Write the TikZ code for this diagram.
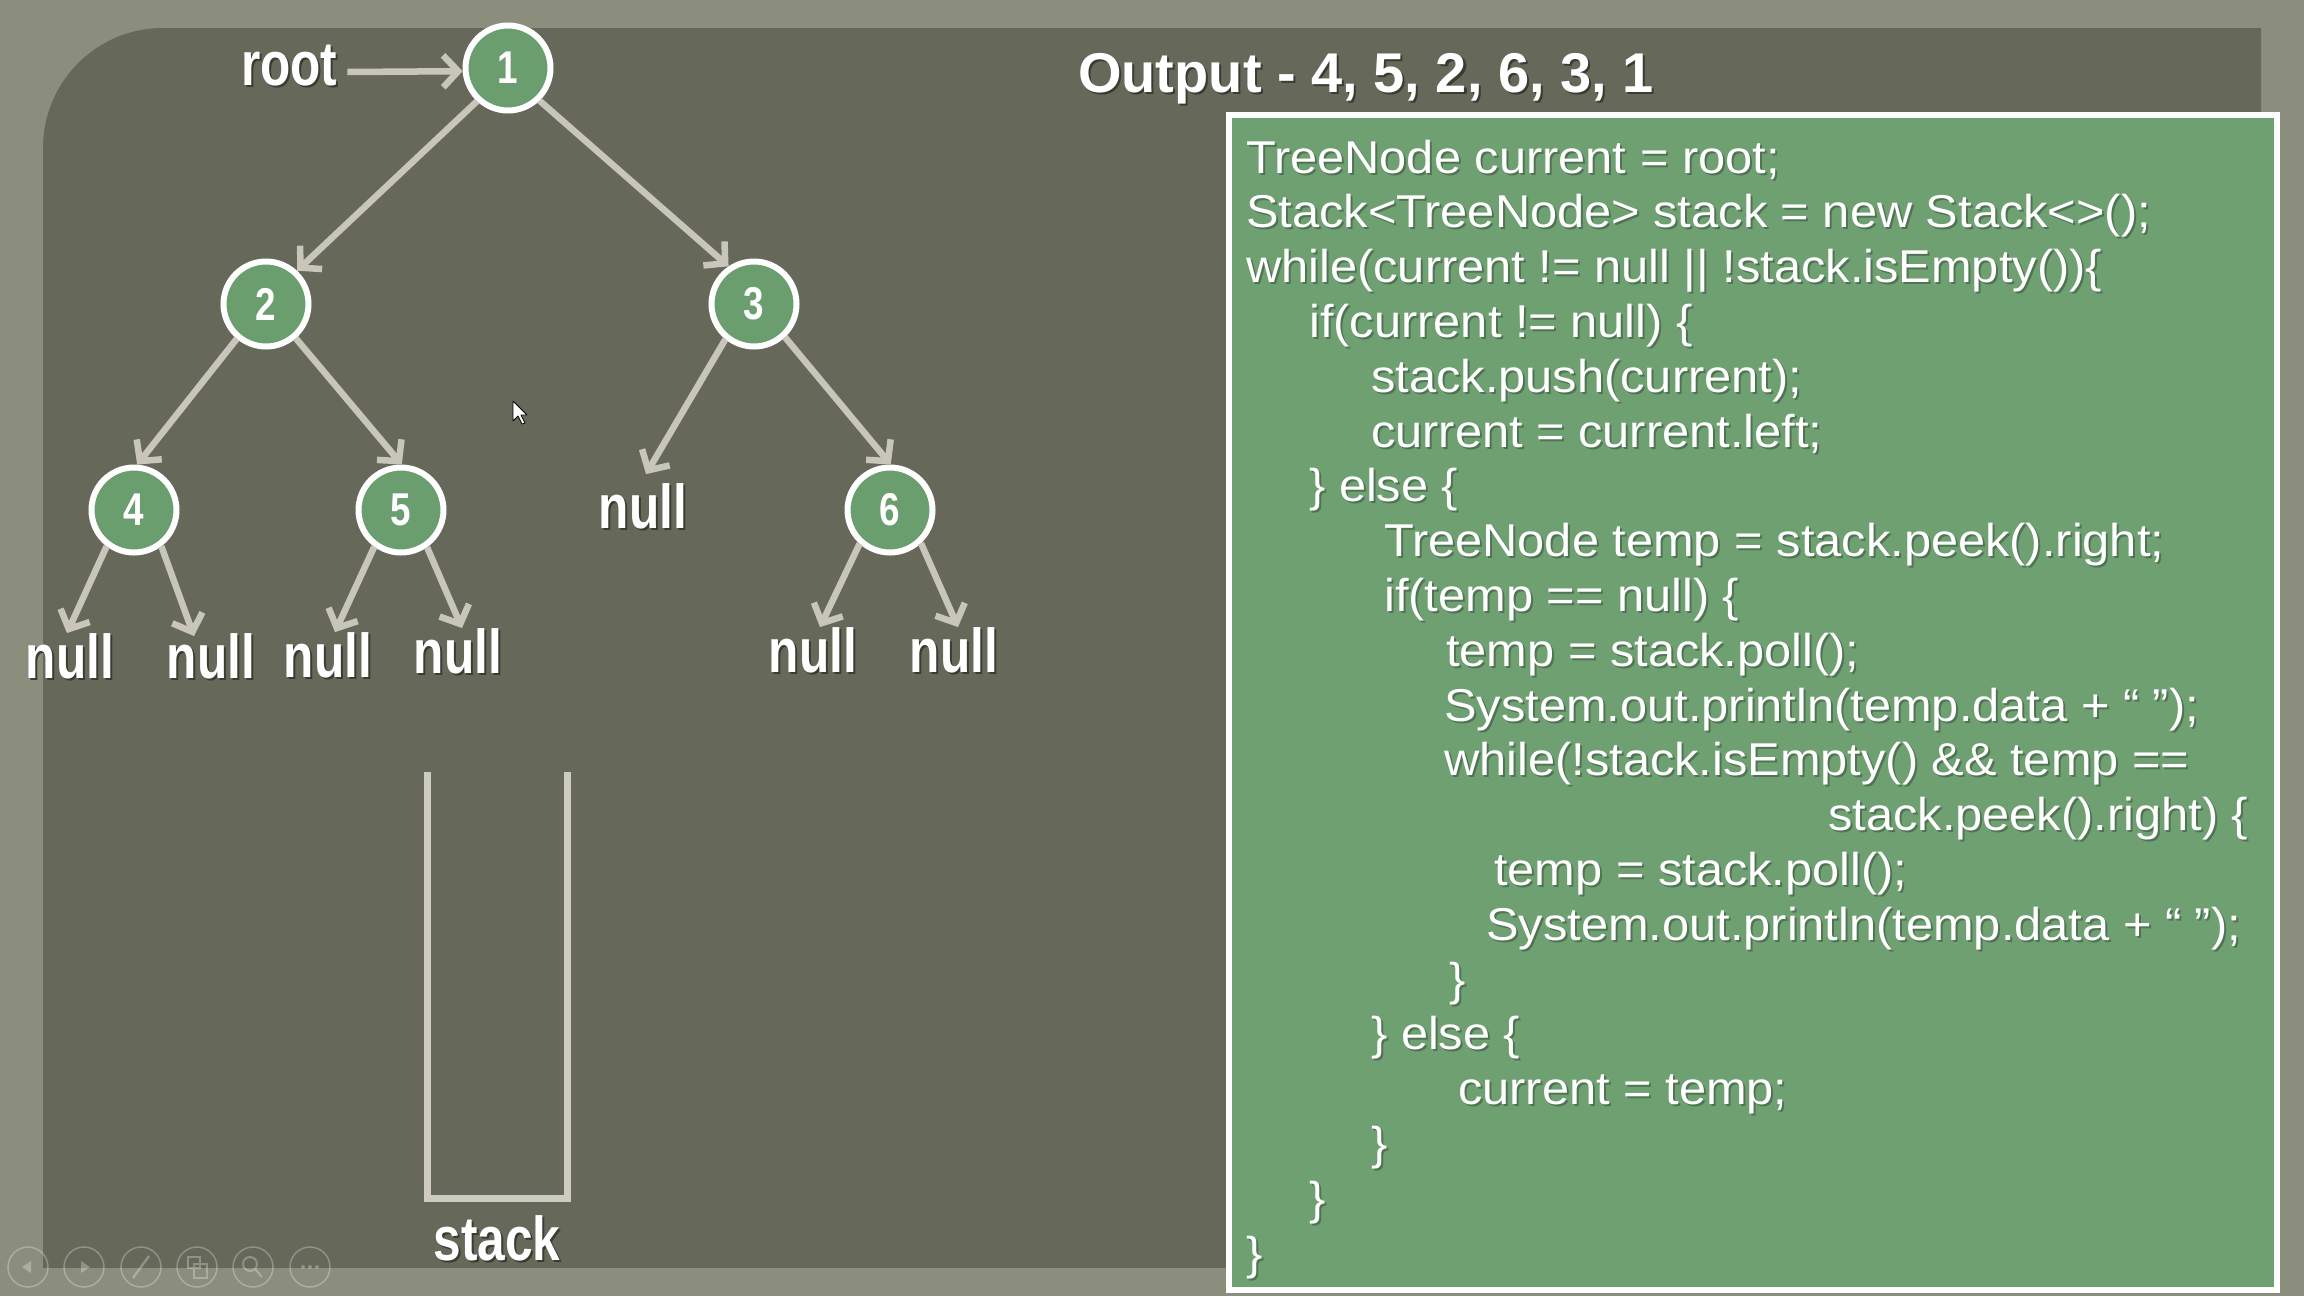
\documentclass[tikz,border=0pt]{standalone}
\usepackage{fontspec}
\setmainfont{Liberation Sans}
\newfontfamily\codefont[FakeStretch=1.06]{Liberation Sans}
\newfontfamily\labelfont[FakeStretch=0.8]{Liberation Sans}
\usetikzlibrary{arrows.meta,calc}

\definecolor{outerbg}{RGB}{139,142,125}
\definecolor{panelbg}{RGB}{102,104,90}
\definecolor{nodegreen}{RGB}{106,158,111}
\definecolor{codegreen}{RGB}{111,160,114}
\definecolor{edgegray}{RGB}{200,198,186}
\definecolor{wallgray}{RGB}{206,204,192}
\definecolor{labelshade}{RGB}{58,60,50}
\definecolor{codeshade}{RGB}{80,116,83}

% text with a small drop shadow underneath
\newcommand{\shadowed}[2]{\rlap{\kern2pt\raisebox{-2pt}{\textcolor{#1}{#2}}}#2}

\tikzset{
  treenode/.style={circle, draw=white, line width=6pt, fill=nodegreen,
    minimum size=85pt, inner sep=0pt, text=white,
    font=\labelfont\bfseries\fontsize{46}{50}\selectfont},
  treelabel/.style={text=white, inner sep=0pt, outer sep=0pt, anchor=base,
    font=\labelfont\bfseries\fontsize{62}{70}\selectfont},
  titlelabel/.style={text=white, inner sep=0pt, anchor=base west,
    font=\bfseries\fontsize{56}{62}\selectfont},
  codeline/.style={anchor=base west, inner sep=0pt, text=white,
    font=\codefont\fontsize{46}{55}\selectfont},
  edge/.style={draw=edgegray, line width=6.5pt,
    -{Straight Barb[length=15pt,width=32pt]}},
  stackwall/.style={draw=wallgray, line width=7pt, line join=miter},
  toolicon/.style={draw=white, draw opacity=0.28, line width=1.5pt},
}

% one line of the code listing: name, x, line number, text
\newcommand{\codeln}[4]{\node[codeline] (#1) at (#2,{173+54.8*#3}) {\shadowed{codeshade}{#4}};}

\begin{document}
\begin{tikzpicture}[x=1pt,y=-1pt]
  \useasboundingbox (0,0) rectangle (2304,1296);

  % slide background and dark panel with one rounded corner
  \fill[outerbg] (0,0) rectangle (2304,1296);
  \begin{scope}
    \clip (0,0) rectangle (2261,1267);
    \fill[panelbg, rounded corners=120pt] (43,28) rectangle (2500,1500);
  \end{scope}

  % code listing box
  \filldraw[fill=codegreen, draw=white, line width=6pt] (1229,115) rectangle (2277,1290);

  % tree nodes
  \node[treenode] (n1) at (508,68)  {1};
  \node[treenode] (n2) at (266,304) {2};
  \node[treenode] (n3) at (754,304) {3};
  \node[treenode] (n4) at (134,510) {4};
  \node[treenode] (n5) at (401,510) {5};
  \node[treenode] (n6) at (890,510) {6};

  % null children
  \node[treelabel] (nullR) at (643,528) {\shadowed{labelshade}{null}};
  \node[treelabel] (nullA) at (70,678)  {\shadowed{labelshade}{null}};
  \node[treelabel] (nullB) at (211,678) {\shadowed{labelshade}{null}};
  \node[treelabel] (nullC) at (328,677) {\shadowed{labelshade}{null}};
  \node[treelabel] (nullD) at (458,673) {\shadowed{labelshade}{null}};
  \node[treelabel] (nullE) at (813,672) {\shadowed{labelshade}{null}};
  \node[treelabel] (nullF) at (954,672) {\shadowed{labelshade}{null}};

  % labels
  \node[treelabel, anchor=base west] (rootlbl) at (241,85) {\shadowed{labelshade}{root}};
  \node[treelabel] (stacklbl) at (497,1260) {\shadowed{labelshade}{stack}};
  \node[titlelabel] (output) at (1078,92) {\shadowed{labelshade}{Output - 4, 5, 2, 6, 3, 1}};

  % tree edges
  \draw[edge] ($(rootlbl.base east)+(10,-13)$) -- (n1.184);
  \draw[edge] (n1.227) -- (n2.47);
  \draw[edge] (n1.314) -- (n3.124);
  \draw[edge] (n2.230) -- (n4.86);
  \draw[edge] (n2.311) -- (n5.89);
  \draw[edge] (n3.231) -- ($(nullR.north)+(3,-9)$);
  \draw[edge] (n3.313) -- (n6.89);
  \draw[edge] (n4.233) -- ($(nullA.north)+(-3,0)$);
  \draw[edge] (n4.307) -- ($(nullB.north)+(-17,3)$);
  \draw[edge] (n5.234) -- ($(nullC.north)+(7,0)$);
  \draw[edge] (n5.305) -- ($(nullD.north)+(4,0)$);
  \draw[edge] (n6.228) -- ($(nullE.north)+(7,0)$);
  \draw[edge] (n6.313) -- ($(nullF.north)+(4,0)$);

  % the (empty) stack container
  \draw[stackwall] (427,772) -- (427,1198) -- (567,1198) -- (567,772);

  % mouse pointer
  \filldraw[fill=white, draw=black, line width=0.8pt, line join=round]
    (513,401) -- (513,421) -- (518,416) -- (522,424) -- (525,423)
    -- (521,415) -- (527,415) -- cycle;

  % code listing
  \codeln{c0}{1246}{0}{TreeNode current = root;}
  \codeln{c1}{1246}{1}{Stack<TreeNode> stack = new Stack<>();}
  \codeln{c2}{1246}{2}{while(current != null || !stack.isEmpty())\{}
  \codeln{c3}{1309}{3}{if(current != null) \{}
  \codeln{c4}{1371}{4}{stack.push(current);}
  \codeln{c5}{1371}{5}{current = current.left;}
  \codeln{c6}{1309}{6}{\} else \{}
  \codeln{c7}{1384}{7}{TreeNode temp = stack.peek().right;}
  \codeln{c8}{1384}{8}{if(temp == null) \{}
  \codeln{c9}{1446}{9}{temp = stack.poll();}
  \codeln{c10}{1444}{10}{System.out.println(temp.data + “ ”);}
  \codeln{c11}{1444}{11}{while(!stack.isEmpty() \&\& temp ==}
  \codeln{c12}{1828}{12}{stack.peek().right) \{}
  \codeln{c13}{1494}{13}{temp = stack.poll();}
  \codeln{c14}{1486}{14}{System.out.println(temp.data + “ ”);}
  \codeln{c15}{1449}{15}{\}}
  \codeln{c16}{1371}{16}{\} else \{}
  \codeln{c17}{1458}{17}{current = temp;}
  \codeln{c18}{1371}{18}{\}}
  \codeln{c19}{1309}{19}{\}}
  \codeln{c20}{1246}{20}{\}}

  % faint slide-show controls, bottom left
  \foreach \cx in {28,84,141,197,253,310}
    \draw[toolicon] (\cx,1267) circle[radius=20pt];
  \fill[white, opacity=0.28] (22,1267) -- (31,1261) -- (31,1273) -- cycle;
  \fill[white, opacity=0.28] (90,1267) -- (81,1261) -- (81,1273) -- cycle;
  \draw[toolicon, line width=2.5pt] (133,1278) -- (149,1256);
  \draw[toolicon] (188,1257) rectangle (200,1268) (194,1264) rectangle (207,1278);
  \draw[toolicon, line width=2pt] (250,1264) circle[radius=7pt] (255,1269) -- (262,1277);
  \foreach \dx in {-7,0,7}
    \fill[white, opacity=0.28] ({310+\dx},1267) circle[radius=2pt];
\end{tikzpicture}
\end{document}
